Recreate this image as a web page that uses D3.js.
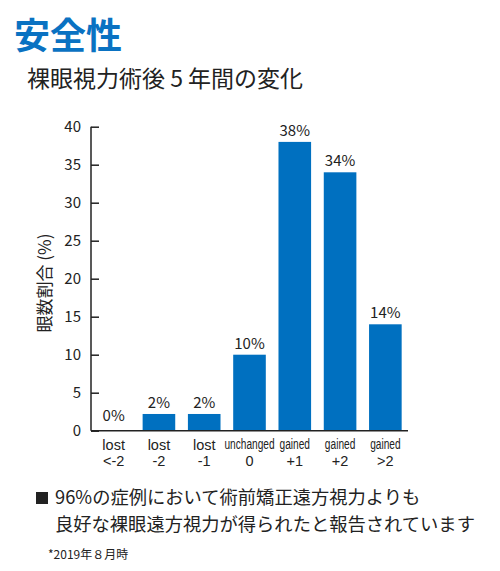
<!DOCTYPE html>
<html><head><meta charset="utf-8">
<script src="https://cdn.jsdelivr.net/npm/d3@7"></script>
<style>
html,body{margin:0;padding:0;background:#fff;}
svg{display:block;font-family:"Noto Sans CJK JP","Noto Sans",sans-serif;}
</style></head>
<body>
<script>
const categories = [["lost","<-2"],["lost","-2"],["lost","-1"],["unchanged","0"],["gained","+1"],["gained","+2"],["gained",">2"]];
const values = [0, 2.2, 2.2, 10, 38, 34, 14];
const valueLabels = ["0%","2%","2%","10%","38%","34%","14%"];
const yTicks = [0,5,10,15,20,25,30,35,40];
const title = "安全性";
const subtitle = "裸眼視力術後 5 年間の変化";
const yTitle = "眼数割合 (%)";
const notes = ["96%の症例において術前矯正遠方視力よりも","良好な裸眼遠方視力が得られたと報告されています"];
const footnote = "*2019年８月時";

const W=500,H=571;
const blue="#0070c0";
const svg=d3.select("body").append("svg").attr("width",W).attr("height",H);

svg.append("text").attr("x",14).attr("y",49).attr("fill","#0a72c2")
  .attr("font-size",36).attr("font-weight",700).text(title);
svg.append("text").attr("x",27).attr("y",87).attr("fill","#222")
  .attr("font-size",23).text(subtitle);

const x0=91,x1=408,yTop=126.7,yBot=430.7;
const x=d3.scaleBand().domain(d3.range(categories.length)).range([x0,x1]).paddingInner(0.28).paddingOuter(0.14);
const y=d3.scaleLinear().domain([0,40]).range([yBot,yTop]);

const gy=svg.append("g").attr("transform",`translate(${x0},0)`)
  .call(d3.axisLeft(y).tickValues(yTicks).tickSize(-8).tickPadding(10));
gy.select(".domain").attr("stroke","#222").attr("stroke-width",1.5).attr("d",`M0,${yTop}V${yBot}`);
gy.selectAll(".tick line").attr("stroke","#222").attr("stroke-width",1.5);
gy.selectAll(".tick text").attr("font-size",15).attr("fill","#222").attr("font-family","'Noto Sans CJK JP',sans-serif");

svg.append("g").selectAll("rect").data(values).join("rect")
  .attr("x",(d,i)=>x(i)).attr("width",x.bandwidth())
  .attr("y",d=>y(d)).attr("height",d=>yBot-y(d)).attr("fill",blue);

svg.append("line").attr("x1",x0).attr("x2",x1).attr("y1",yBot).attr("y2",yBot)
  .attr("stroke","#222").attr("stroke-width",1.5);

svg.append("g").selectAll("text").data(values).join("text")
  .attr("x",(d,i)=>x(i)+x.bandwidth()/2).attr("y",(d,i)=>y(d)-(d===0?10:6))
  .attr("text-anchor","middle").attr("font-size",15).attr("fill","#222")
  .text((d,i)=>valueLabels[i]);

const squeeze=0.7;
const cg=svg.append("g").selectAll("g").data(categories).join("g");
const ct=cg.append("text").attr("text-anchor","middle").attr("font-size",14.5).attr("fill","#222")
  .attr("font-family","'Liberation Sans',Arial,sans-serif");
ct.append("tspan").attr("class","l1").attr("x",0).attr("y",449.5).text(d=>d[0]);
ct.append("tspan").attr("class","l2").attr("x",0).attr("y",466).text(d=>d[1]);
cg.each(function(d,i){
  const g=d3.select(this);
  const t1=g.select(".l1").node();
  const wide=t1.getComputedTextLength()>x.bandwidth();
  const cx=x(i)+x.bandwidth()/2;
  g.attr("transform",`translate(${cx},0)`+(wide?` scale(${squeeze},1)`:""));
  if(wide){
    const t2=g.select(".l2");
    const w2=t2.node().getComputedTextLength();
    t2.attr("textLength",w2/squeeze).attr("lengthAdjust","spacingAndGlyphs");
  }
});

svg.append("text").attr("transform",`translate(51,283) rotate(-90)`)
  .attr("text-anchor","middle").attr("font-size",17).attr("fill","#222").text(yTitle);

svg.append("rect").attr("x",36).attr("y",492).attr("width",12).attr("height",12).attr("fill","#222");
svg.append("text").attr("x",55).attr("y",504).attr("font-size",18.3).attr("fill","#222").text(notes[0]);
svg.append("text").attr("x",55).attr("y",531).attr("font-size",18.3).attr("fill","#222").text(notes[1]);
svg.append("text").attr("x",48).attr("y",559).attr("font-size",12).attr("fill","#222").text(footnote);
</script>
</body></html>
